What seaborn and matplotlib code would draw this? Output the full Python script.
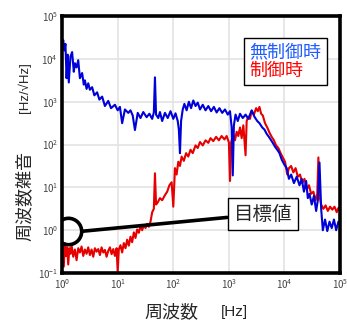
import numpy as np
import pandas as pd
import seaborn as sns
import matplotlib.pyplot as plt

# values, stored as log10 exponents
blue_logf = [0.00, 0.02, 0.04, 0.06, 0.08, 0.10, 0.12, 0.15, 0.18, 0.21, 0.23, 0.26, 0.29, 0.32, 0.36,
             0.39, 0.41, 0.44, 0.47, 0.50, 0.54, 0.58, 0.63, 0.67, 0.72, 0.77, 0.83, 0.88, 0.95, 1.00,
             1.04, 1.08, 1.13, 1.19, 1.23, 1.27, 1.31, 1.36, 1.41, 1.46, 1.52, 1.57, 1.62, 1.65, 1.67,
             1.69, 1.73, 1.76, 1.80, 1.85, 1.90, 1.95, 2.00, 2.04, 2.08, 2.10, 2.12, 2.14, 2.17, 2.20,
             2.24, 2.28, 2.32, 2.36, 2.40, 2.44, 2.48, 2.53, 2.58, 2.63, 2.68, 2.73, 2.78, 2.83, 2.88,
             2.93, 2.98, 3.02, 3.05, 3.07, 3.09, 3.12, 3.16, 3.20, 3.25, 3.30, 3.35, 3.41, 3.46, 3.51,
             3.55, 3.60, 3.64, 3.68, 3.72, 3.76, 3.79, 3.83, 3.87, 3.91, 3.95, 3.99, 4.04, 4.08, 4.12,
             4.17, 4.22, 4.27, 4.31, 4.35, 4.39, 4.42, 4.45, 4.49, 4.53, 4.57, 4.60, 4.63, 4.66, 4.69,
             4.73, 4.77, 4.81, 4.85, 4.89, 4.93, 4.97, 5.00]
blue_logv = [4.30, 4.44, 4.20, 4.35, 3.55, 4.10, 3.45, 4.05, 4.16, 3.70, 3.90, 3.80, 3.97, 3.55, 3.67,
             3.40, 3.50, 3.30, 3.43, 3.28, 3.34, 3.15, 3.22, 3.05, 3.12, 2.90, 3.02, 2.85, 2.93, 2.80,
             2.88, 2.50, 2.82, 2.74, 2.80, 2.68, 2.34, 2.74, 2.62, 2.76, 2.64, 2.72, 2.60, 2.75, 3.57,
             2.70, 2.62, 2.76, 2.55, 2.74, 2.62, 2.78, 2.60, 2.73, 2.55, 2.35, 1.80, 2.55, 2.82, 2.95,
             2.80, 3.00, 2.85, 3.03, 2.90, 2.98, 2.82, 2.93, 2.80, 2.90, 2.78, 2.88, 2.75, 2.85, 2.74,
             2.82, 2.70, 2.78, 2.40, 1.28, 2.45, 2.70, 2.55, 2.72, 2.62, 2.70, 2.60, 2.80, 2.65, 2.55,
             2.50, 2.40, 2.35, 2.25, 2.18, 2.10, 2.04, 1.95, 1.88, 1.80, 1.65, 1.55, 1.45, 1.20, 1.30,
             1.10, 1.25, 1.05, 1.20, 0.90, 1.15, 0.75, 0.85, 0.60, 0.80, 0.45, 0.70, 1.58, 0.50, 0.00,
             0.25, -0.02, 0.20, 0.05, 0.25, 0.00, 0.20, 0.12]

red_logf = [0.00, 0.01, 0.03, 0.05, 0.07, 0.09, 0.11, 0.13, 0.15, 0.17, 0.20, 0.23, 0.26, 0.29, 0.32,
            0.35, 0.38, 0.41, 0.44, 0.47, 0.50, 0.53, 0.56, 0.59, 0.62, 0.65, 0.68, 0.71, 0.74, 0.77,
            0.80, 0.83, 0.86, 0.89, 0.92, 0.95, 0.98, 1.00, 1.02, 1.05, 1.08, 1.11, 1.14, 1.17, 1.20,
            1.23, 1.26, 1.29, 1.32, 1.35, 1.38, 1.41, 1.44, 1.47, 1.50, 1.53, 1.56, 1.59, 1.62, 1.65,
            1.67, 1.69, 1.72, 1.76, 1.80, 1.85, 1.89, 1.93, 1.97, 2.00, 2.03, 2.06, 2.09, 2.12, 2.15,
            2.19, 2.23, 2.27, 2.31, 2.35, 2.40, 2.44, 2.48, 2.53, 2.58, 2.63, 2.67, 2.72, 2.77, 2.82,
            2.87, 2.92, 2.96, 3.00, 3.02, 3.04, 3.08, 3.11, 3.14, 3.17, 3.20, 3.23, 3.26, 3.30, 3.32,
            3.35, 3.38, 3.41, 3.45, 3.49, 3.52, 3.55, 3.58, 3.61, 3.65, 3.69, 3.73, 3.77, 3.81, 3.85,
            3.89, 3.93, 3.97, 4.01, 4.05, 4.08, 4.12, 4.16, 4.20, 4.24, 4.28, 4.32, 4.36, 4.40, 4.44,
            4.48, 4.52, 4.56, 4.59, 4.61, 4.63, 4.66, 4.70, 4.74, 4.78, 4.82, 4.86, 4.90, 4.94, 4.97,
            5.00]
red_logv = [-0.70, -0.35, -0.85, -0.30, -0.60, -0.40, -0.80, -0.42, -0.55, -0.35, -0.62, -0.45, -0.70, -0.42, -0.52,
            -0.38, -0.60, -0.45, -0.55, -0.40, -0.58, -0.45, -0.62, -0.42, -0.50, -0.44, -0.58, -0.40, -0.52, -0.46,
            -0.62, -0.48, -0.40, -0.56, -0.44, -0.60, -0.42, -0.98, -0.45, -0.35, -0.52, -0.30, -0.42, -0.22, -0.36,
            -0.15, -0.28, -0.05, -0.18, 0.02, -0.06, 0.10, 0.00, 0.12, 0.05, 0.15, 0.08, 0.20, 0.42, 0.50,
            1.33, 0.60, 0.65, 0.75, 0.70, 0.82, 0.90, 1.05, 1.12, 0.55, 1.45, 1.30, 1.60, 1.50, 1.72,
            1.62, 1.80, 1.72, 1.88, 1.80, 1.98, 1.92, 2.06, 1.98, 2.10, 2.04, 2.15, 2.08, 2.18, 2.10,
            2.20, 2.12, 2.20, 2.05, 1.15, 2.05, 2.25, 2.10, 2.30, 2.20, 2.40, 2.15, 2.45, 1.75, 2.55,
            2.65, 2.60, 2.78, 2.70, 2.85, 2.78, 2.88, 2.72, 2.68, 2.50, 2.40, 2.28, 2.18, 2.10, 1.98,
            1.92, 1.80, 1.70, 1.60, 1.30, 1.45, 1.50, 1.35, 1.45, 1.25, 1.30, 1.10, 1.20, 0.95, 1.05,
            0.85, 0.90, 0.70, 0.85, 1.70, 0.80, 0.60, 0.50, 0.58, 0.45, 0.55, 0.48, 0.55, 0.42, 0.52,
            0.45]

series_labels = ["無制御時", "制御時"]
target_label = "目標値"
target_point = (1.28, 0.95)   # circled spot
xlabel_text, xlabel_unit = "周波数", "[Hz]"
ylabel_text, ylabel_unit = "周波数雑音", "[Hz/√Hz]"

blue = pd.DataFrame({"f": np.power(10.0, blue_logf), "v": np.power(10.0, blue_logv)})
red = pd.DataFrame({"f": np.power(10.0, red_logf), "v": np.power(10.0, red_logv)})

sns.set_style("white")
plt.rcParams['font.family'] = ['Noto Sans CJK JP', 'DejaVu Sans']

W, H = 347, 322
fig = plt.figure(figsize=(W / 100, H / 100), dpi=100)
ax = fig.add_axes([0.179, 0.152, 0.801, 0.798])

sns.lineplot(data=red, x="f", y="v", color="#e60000", lw=1.5, sort=False, ax=ax, label=series_labels[1])
sns.lineplot(data=blue, x="f", y="v", color="#0000d8", lw=1.5, sort=False, ax=ax, label=series_labels[0])

ax.set_xscale("log")
ax.set_yscale("log")
ax.set_xlim(1, 1e5)
ax.set_ylim(1e-1, 1e5)
ax.grid(True, which="major", color="#e3e3e3", lw=1.2)
ax.minorticks_off()
ax.tick_params(length=0, labelsize=7, labelcolor="#444444", pad=3)
for s in ax.spines.values():
    s.set_color("black")
    s.set_linewidth(2.6)
ax.xaxis.label.set_visible(False)
ax.yaxis.label.set_visible(False)

# axis titles: Japanese part and unit part set apart, as in the original
fig.text(171 / W, 1 - 312 / H, xlabel_text, fontsize=13, ha="center", va="center")
fig.text(234 / W, 1 - 312 / H, xlabel_unit, fontsize=11, ha="center", va="center",
         family="Liberation Sans")
fig.text(24 / W, 1 - 196 / H, ylabel_text, fontsize=13, ha="center", va="center", rotation=90)
fig.text(24 / W, 1 - 88 / H, ylabel_unit, fontsize=9.5, ha="center", va="center", rotation=90,
         family=["Liberation Sans", "DejaVu Sans"])

# legend with coloured text only
handles, labels = ax.get_legend_handles_labels()
order = [1, 0]
leg = ax.legend([handles[i] for i in order], [labels[i] for i in order],
                loc="upper right", bbox_to_anchor=(0.953, 0.914), borderaxespad=0,
                handlelength=0, handletextpad=0, fontsize=13,
                frameon=True, fancybox=False, framealpha=1,
                edgecolor="black", borderpad=0.3, labelspacing=0.0)
leg.get_frame().set_linewidth(1.0)
for h in leg.legend_handles:
    h.set_visible(False)
leg.get_texts()[0].set_color("#1f5cff")
leg.get_texts()[1].set_color("#ff0000")

# target marker + callout
ax.plot([target_point[0]], [target_point[1]], marker="o", ms=19, mfc="none",
        mec="black", mew=2.6, zorder=5)
ax.annotate(target_label, xy=(2.38, 0.95), xytext=(4070, 2.39),
            fontsize=14, ha="center", va="center",
            bbox=dict(boxstyle="square,pad=0.3", fc="white", ec="black", lw=1.0),
            arrowprops=dict(arrowstyle="-", color="black", lw=2.6, shrinkA=0, shrinkB=0),
            zorder=6)

plt.savefig("out.png", dpi=100)
